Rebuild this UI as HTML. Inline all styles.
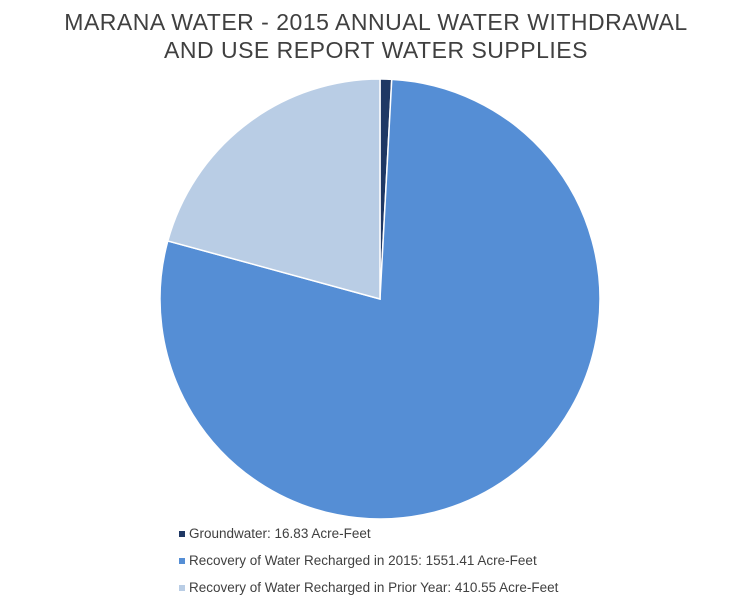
<!DOCTYPE html>
<html><head><meta charset="utf-8"><style>
body{margin:0;background:#fff;width:750px;height:606px;overflow:hidden;font-family:"Liberation Sans",sans-serif}
</style></head><body>
<svg width="750" height="606">
<text x="376" y="30" text-anchor="middle" font-size="23" fill="#404040" letter-spacing="0.5">MARANA WATER - 2015 ANNUAL WATER WITHDRAWAL</text>
<text x="376" y="58" text-anchor="middle" font-size="23" fill="#404040" letter-spacing="0.5">AND USE REPORT WATER SUPPLIES</text>
<g id="slices"></g>
<g id="legend"></g>
</svg>
<script>
const labels=["Groundwater: 16.83 Acre-Feet","Recovery of Water Recharged in 2015: 1551.41 Acre-Feet","Recovery of Water Recharged in Prior Year: 410.55 Acre-Feet"];
const values=[16.83,1551.41,410.55];
const colors=["#1f3864","#558ed5","#b9cde5"];
const names=["slice-groundwater","slice-recharged-2015","slice-prior-year"];
const cx=380,cy=299,r=220;
const total=values.reduce((a,b)=>a+b,0);
const ns="http://www.w3.org/2000/svg";
const g=document.getElementById('slices');
let a=0;
values.forEach((v,i)=>{
  const a0=a, a1=a+v/total*2*Math.PI; a=a1;
  const x0=cx+r*Math.sin(a0),y0=cy-r*Math.cos(a0),x1=cx+r*Math.sin(a1),y1=cy-r*Math.cos(a1);
  const p=document.createElementNS(ns,'path');
  p.setAttribute('d',`M${cx},${cy}L${x0},${y0}A${r},${r} 0 ${a1-a0>Math.PI?1:0} 1 ${x1},${y1}Z`);
  p.setAttribute('fill',colors[i]);p.setAttribute('stroke','#fff');p.setAttribute('stroke-width','1.5');
  
  
  g.appendChild(p);
});
const lg=document.getElementById('legend');
labels.forEach((t,i)=>{
  const y=536+i*27;
  const rc=document.createElementNS(ns,'rect');
  rc.setAttribute('x',179);rc.setAttribute('y',y-5);rc.setAttribute('width',6);rc.setAttribute('height',6);rc.setAttribute('fill',colors[i]);
  
  
  lg.appendChild(rc);
  const tx=document.createElementNS(ns,'text');
  tx.setAttribute('x',189);tx.setAttribute('y',y+2);tx.setAttribute('font-size','13.5');tx.setAttribute('fill','#404040');
  tx.textContent=t;
  
  
  lg.appendChild(tx);
});
</script>
</body></html>
